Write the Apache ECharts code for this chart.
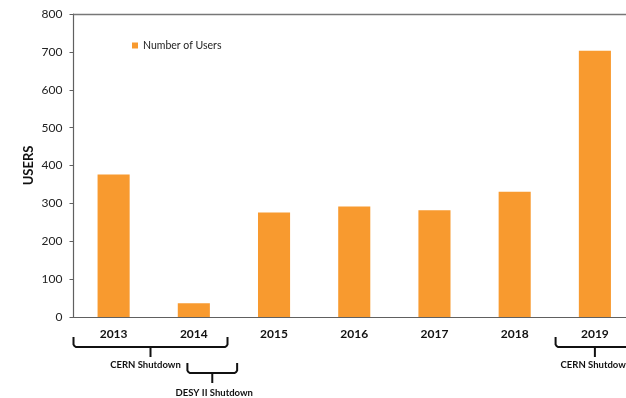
<!DOCTYPE html>
<html>
<head>
<meta charset="utf-8">
<style>
  html, body { margin: 0; padding: 0; background: #ffffff; overflow: hidden; }
  /* the plot runs a little past the right edge of the window */
  #chart { width: 635px; height: 398px; }
</style>
<script src="https://cdn.jsdelivr.net/npm/echarts@6/dist/echarts.min.js"></script>
</head>
<body>
<div id="chart"></div>
<script>
// Yearly user counts
const years = ['2013', '2014', '2015', '2016', '2017', '2018', '2019'];
const users = [376, 36, 276, 292, 282, 331, 703];
const yTicks = [0, 100, 200, 300, 400, 500, 600, 700, 800];

// Shutdown periods shown as braces under the year axis
const shutdownLabels = ['CERN Shutdown', 'DESY II Shutdown', 'CERN Shutdown'];
const shutdownFrom = [0, 1, 6];
const shutdownTo = [1, 1, 6];

// brace geometry, in fractions of a category band
const braceStart = [-0.5, -0.08, -0.49];
const braceEnd = [0.42, 0.54, 0.49];
const braceRow = [0, 1, 0];
const labelShift = [-5, 2, 1];

const FONT = 'Lato, "Open Sans", sans-serif';
const AXIS = '#606060';
const TOP_LINE = '#777777';
const ORANGE = '#F89A2F';

const chart = echarts.init(document.getElementById('chart'), null, { renderer: 'canvas' });

chart.setOption({
  animation: false,
  backgroundColor: '#ffffff',
  grid: { left: 73.5, top: 14, bottom: 81, right: 0, containLabel: false },
  legend: {
    left: 132, top: 40, padding: 0,
    itemWidth: 6, itemHeight: 6, itemGap: 10,
    icon: 'rect',
    textStyle: { fontFamily: FONT, fontSize: 10.5, color: '#222' },
    data: ['Number of Users']
  },
  xAxis: [{
    type: 'category',
    data: years,
    axisLine: { lineStyle: { color: AXIS, width: 1.2 } },
    axisTick: { show: false },
    axisLabel: { fontFamily: FONT, fontSize: 12, fontWeight: 'bold', color: '#111', margin: 11 }
  }, {
    type: 'category',
    position: 'top',
    data: years,
    axisLine: { show: true, onZero: false, lineStyle: { color: TOP_LINE, width: 1.4 } },
    axisTick: { show: false },
    axisLabel: { show: false }
  }],
  yAxis: {
    type: 'value',
    min: yTicks[0], max: yTicks[yTicks.length - 1], interval: 100,
    name: 'USERS',
    nameLocation: 'middle',
    nameRotate: 90,
    nameGap: 38,
    nameMoveOverlap: false,
    nameTextStyle: { fontFamily: FONT, fontSize: 13, fontWeight: 'bold', color: '#111' },
    axisLine: { show: true, lineStyle: { color: AXIS, width: 1.2 } },
    axisTick: { show: true, length: 4, lineStyle: { color: AXIS } },
    splitLine: { show: false },
    axisLabel: { fontFamily: FONT, fontSize: 12, color: '#222', margin: 11 }
  },
  series: [{
    name: 'Number of Users',
    type: 'bar',
    data: users,
    barWidth: '40%',
    itemStyle: { color: ORANGE }
  }]
});

// Braces placed from the category axis positions
const c0 = chart.convertToPixel({ xAxisIndex: 0 }, 0);
const c1 = chart.convertToPixel({ xAxisIndex: 0 }, 1);
const band = c1 - c0;
const axisY = chart.convertToPixel({ yAxisIndex: 0 }, 0);

const braceStyle = { stroke: '#111', lineWidth: 2, fill: null };
const elements = [];
shutdownLabels.forEach(function (label, i) {
  const x1 = c0 + (shutdownFrom[i] + braceStart[i]) * band;
  const x2 = c0 + (shutdownTo[i] + braceEnd[i]) * band;
  const base = axisY + (braceRow[i] === 0 ? 20 : 46);
  const yLine = base + 10;
  const xc = (x1 + x2) / 2;
  const r = 2.5;
  elements.push({
    type: 'polyline',
    shape: {
      points: [
        [x1, base], [x1, yLine - r], [x1 + r * 0.4, yLine - r * 0.4], [x1 + r, yLine],
        [x2 - r, yLine], [x2 - r * 0.4, yLine - r * 0.4], [x2, yLine - r], [x2, base]
      ]
    },
    style: braceStyle
  });
  elements.push({
    type: 'line',
    shape: { x1: xc, y1: yLine, x2: xc, y2: yLine + 10 },
    style: braceStyle
  });
  elements.push({
    type: 'text',
    x: xc + labelShift[i],
    y: braceRow[i] === 0 ? base + 28 : base + 30,
    style: {
      text: label, fontFamily: FONT, fontSize: 9.5, fontWeight: 'bold', fill: '#111',
      align: 'center', verticalAlign: 'middle'
    }
  });
});
chart.setOption({ graphic: { elements: elements } });
</script>
</body>
</html>
